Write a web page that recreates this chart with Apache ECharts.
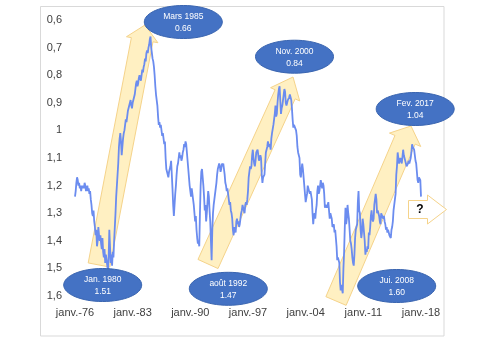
<!DOCTYPE html>
<html><head><meta charset="utf-8">
<script src="https://cdn.jsdelivr.net/npm/echarts@6/dist/echarts.min.js"></script>
<style>html,body{margin:0;padding:0;background:#fff}#c{width:482px;height:349px}</style>
</head><body><div id="c"></div>
<script>
// Monthly values (USD per EUR, synthetic before 1999), Jan 1976 .. Jan 2018
const v1976_1980 = [
1.24,1.22,1.19,1.17,1.18,1.20,1.19,1.21,1.20,1.22,1.20,1.21,
1.20,1.21,1.19,1.20,1.22,1.21,1.20,1.22,1.21,1.23,1.22,1.25,
1.27,1.30,1.31,1.29,1.33,1.35,1.38,1.36,1.42,1.40,1.35,1.38,
1.40,1.38,1.41,1.43,1.39,1.44,1.46,1.43,1.48,1.45,1.47,1.49,
1.51,1.46,1.36,1.42,1.48,1.45,1.49,1.44,1.46,1.40,1.35,1.30];
const v1981_1985 = [
1.24,1.20,1.16,1.12,1.06,1.03,1.01,1.04,1.09,1.06,1.03,1.01,
1.00,0.98,0.96,0.97,0.95,0.93,0.92,0.91,0.90,0.89,0.91,0.92,
0.90,0.89,0.88,0.87,0.85,0.83,0.82,0.84,0.83,0.81,0.80,0.81,
0.82,0.80,0.78,0.79,0.77,0.76,0.74,0.75,0.72,0.71,0.72,0.70,
0.69,0.67,0.66,0.70,0.72,0.74,0.75,0.77,0.80,0.84,0.87,0.89];
const v1986_1990 = [
0.91,0.95,0.98,0.97,0.99,0.98,1.00,1.02,1.01,1.03,1.05,1.04,
1.10,1.14,1.15,1.16,1.17,1.15,1.14,1.13,1.11,1.16,1.21,1.27,
1.31,1.27,1.23,1.20,1.16,1.13,1.12,1.10,1.08,1.10,1.09,1.11,
1.10,1.08,1.07,1.05,1.06,1.04,1.05,1.08,1.11,1.14,1.17,1.20,
1.22,1.24,1.21,1.23,1.25,1.27,1.30,1.33,1.31,1.36,1.39,1.41];
const v1991_1995 = [
1.40,1.42,1.30,1.20,1.15,1.14,1.17,1.20,1.24,1.29,1.27,1.33,
1.30,1.26,1.22,1.24,1.29,1.33,1.40,1.47,1.36,1.30,1.27,1.25,
1.23,1.21,1.19,1.16,1.14,1.13,1.12,1.13,1.15,1.14,1.12,1.13,
1.12,1.14,1.16,1.19,1.20,1.22,1.21,1.23,1.25,1.27,1.26,1.29,
1.30,1.32,1.36,1.38,1.35,1.36,1.37,1.33,1.32,1.34,1.33,1.35];
const v1996_2000 = [
1.34,1.32,1.30,1.29,1.27,1.28,1.29,1.30,1.27,1.26,1.27,1.25,
1.22,1.17,1.15,1.13,1.14,1.13,1.09,1.07,1.10,1.12,1.13,1.11,
1.08,1.08,1.07,1.09,1.11,1.10,1.09,1.10,1.16,1.19,1.17,1.17,
1.16,1.12,1.08,1.07,1.06,1.04,1.05,1.06,1.05,1.07,1.03,1.01,
1.01,0.98,0.96,0.94,0.91,0.95,0.94,0.90,0.87,0.85,0.84,0.89];
const v2001_2005 = [
0.94,0.92,0.91,0.89,0.87,0.85,0.86,0.90,0.91,0.90,0.89,0.89,
0.88,0.87,0.88,0.89,0.92,0.96,0.99,0.98,0.98,0.98,1.00,1.02,
1.06,1.08,1.08,1.10,1.16,1.17,1.14,1.12,1.14,1.17,1.17,1.23,
1.26,1.26,1.23,1.20,1.21,1.21,1.23,1.22,1.22,1.25,1.30,1.34,
1.31,1.30,1.32,1.29,1.27,1.22,1.20,1.23,1.22,1.20,1.18,1.18];
const v2006_2010 = [
1.21,1.19,1.20,1.23,1.28,1.27,1.27,1.28,1.27,1.26,1.29,1.32,
1.30,1.31,1.32,1.35,1.35,1.34,1.37,1.36,1.39,1.42,1.47,1.46,
1.47,1.48,1.55,1.58,1.56,1.56,1.59,1.50,1.44,1.35,1.28,1.34,
1.32,1.27,1.30,1.32,1.36,1.40,1.41,1.43,1.46,1.48,1.49,1.45,
1.39,1.36,1.35,1.34,1.26,1.22,1.29,1.30,1.36,1.39,1.37,1.32];
const v2011_2018 = [
1.34,1.37,1.40,1.45,1.43,1.44,1.42,1.43,1.37,1.38,1.35,1.31,
1.29,1.32,1.33,1.32,1.27,1.25,1.23,1.25,1.30,1.29,1.29,1.31,
1.33,1.34,1.30,1.30,1.30,1.32,1.31,1.33,1.34,1.36,1.35,1.37,
1.36,1.37,1.38,1.38,1.39,1.36,1.35,1.33,1.29,1.27,1.25,1.23,
1.16,1.13,1.08,1.08,1.12,1.12,1.10,1.11,1.12,1.12,1.07,1.09,
1.09,1.11,1.11,1.13,1.13,1.12,1.11,1.12,1.12,1.10,1.08,1.05,
1.06,1.06,1.07,1.07,1.11,1.12,1.15,1.18,1.19,1.17,1.17,1.18,
1.24];
const monthNames = ['janv.','févr.','mars','avr.','mai','juin','juil.','août','sept.','oct.','nov.','déc.'];
const firstYear = 1976;
const yTicks = [0.6,0.7,0.8,0.9,1.0,1.1,1.2,1.3,1.4,1.5,1.6];
const annotations = [
  {label:'Jan. 1980', value:'1.51'},
  {label:'Mars 1985', value:'0.66'},
  {label:'août 1992', value:'1.47'},
  {label:'Nov. 2000', value:'0.84'},
  {label:'Jui. 2008', value:'1.60'},
  {label:'Fev. 2017', value:'1.04'}
];

const values = [].concat(v1976_1980,v1981_1985,v1986_1990,v1991_1995,v1996_2000,v2001_2005,v2006_2010,v2011_2018);
const categories = values.map((_, i) => monthNames[i % 12] + '-' + String((firstYear + Math.floor(i / 12)) % 100).padStart(2,'0'));

const chart = echarts.init(document.getElementById('c'), null, {renderer:'canvas'});

function arrow(B, T, w, h, L){
  const dx=T[0]-B[0], dy=T[1]-B[1], len=Math.hypot(dx,dy);
  const d=[dx/len, dy/len], n=[-d[1], d[0]];
  const H=[T[0]-d[0]*L, T[1]-d[1]*L];
  return [
    [B[0]+n[0]*w, B[1]+n[1]*w],[H[0]+n[0]*w, H[1]+n[1]*w],[H[0]+n[0]*h, H[1]+n[1]*h],
    T,
    [H[0]-n[0]*h, H[1]-n[1]*h],[H[0]-n[0]*w, H[1]-n[1]*w],[B[0]-n[0]*w, B[1]-n[1]*w]
  ];
}
const arrowStyle = {fill:'rgba(255,236,179,0.8)', stroke:'#F5D38A', lineWidth:1};
const ellipseCenters = [[102.7,285],[183.3,22],[228.3,288.8],[294.5,56.7],[396.7,286],[415.2,109]];
const graphics = [
  {type:'rect', shape:{x:40.5,y:6.5,width:403.5,height:329.5}, style:{fill:'none', stroke:'#D9D9D9', lineWidth:1}, z:-10, silent:true},
  {type:'polygon', shape:{points:arrow([99,265],[145,25],11,16,15)}, style:arrowStyle, z:-5},
  {type:'polygon', shape:{points:arrow([208,264],[293,77],11,16,19)}, style:arrowStyle, z:-5},
  {type:'polygon', shape:{points:arrow([336,301],[411,126],11,17,15)}, style:arrowStyle, z:-5},
  {type:'polygon', shape:{points:[[408.5,200.5],[427.5,200.5],[427.5,195],[446.5,209.5],[427.5,224],[427.5,218.5],[408.5,218.5]]},
    style:{fill:'#FFFFFF', stroke:'#F5D38A', lineWidth:1}, z:50},
  {type:'text', style:{text:'?', x:420, y:210, fill:'#000', font:'bold 12px "Liberation Sans"', textAlign:'center', textVerticalAlign:'middle'}, z:51}
];
annotations.forEach((a, i) => {
  const c = ellipseCenters[i];
  graphics.push({type:'ellipse', shape:{cx:c[0], cy:c[1], rx:39, ry:16.5}, style:{fill:'#4472C4', stroke:'#3A65B0', lineWidth:1}, z:60});
  graphics.push({type:'text', style:{text:a.label, x:c[0], y:c[1]-5.5, fill:'#fff', font:'8.5px "Liberation Sans"', textAlign:'center', textVerticalAlign:'middle'}, z:61});
  graphics.push({type:'text', style:{text:a.value, x:c[0], y:c[1]+6.5, fill:'#fff', font:'8.5px "Liberation Sans"', textAlign:'center', textVerticalAlign:'middle'}, z:61});
});

chart.setOption({
  animation:false,
  backgroundColor:'#fff',
  grid:{left:75, right:61, top:20, bottom:53, containLabel:false},
  xAxis:{type:'category', data:categories, boundaryGap:false,
    axisLine:{show:false}, axisTick:{show:false}, splitLine:{show:false},
    axisLabel:{interval:83, color:'#404040', fontSize:11, fontFamily:'Liberation Sans', margin:11}},
  yAxis:{type:'value', inverse:true, min:yTicks[0], max:yTicks[yTicks.length-1], interval:0.1,
    axisLine:{show:false}, axisTick:{show:false}, splitLine:{show:false},
    axisLabel:{color:'#404040', fontSize:11, fontFamily:'Liberation Sans', margin:13,
      formatter: v => { const r=Math.round(v*10)/10; return (r===1?'1':r.toFixed(1).replace('.',',')); }}},
  series:[{type:'line', data:values, showSymbol:false, symbol:'none', z:10,
    lineStyle:{color:'#6B8CEF', width:1.8}}],
  graphic:{elements:graphics}
});
</script></body></html>
